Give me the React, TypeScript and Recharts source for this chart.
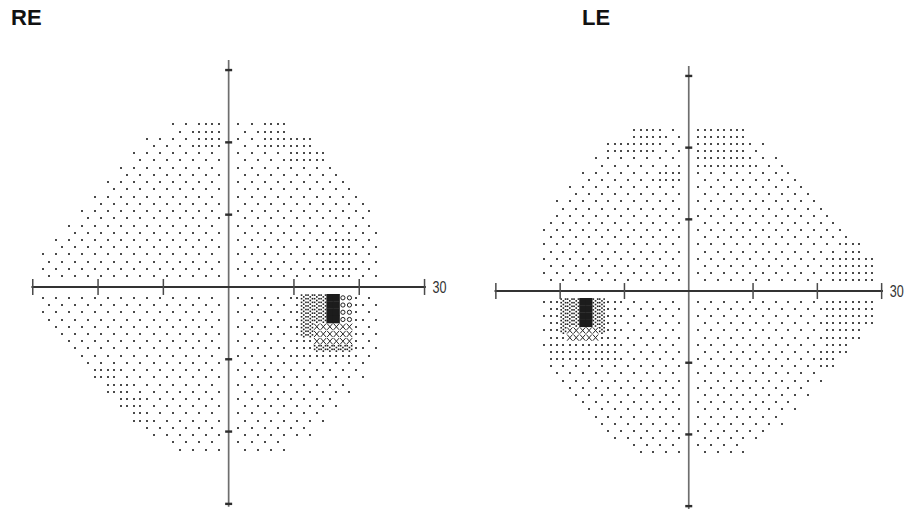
import { ScatterChart, Scatter, XAxis, YAxis, ReferenceLine } from "recharts";

// grayscale rows: index 0 = 1st row off the horizontal meridian (same for upper and lower half)
// [first column, last column] in 1° cells, negative = left of the vertical meridian
const reExtents = [
  [-28, 22], [-28, 22], [-28, 22], [-28, 22],
  [-26, 22], [-26, 22],
  [-24, 22], [-24, 22],
  [-22, 21], [-22, 21],
  [-20, 20], [-20, 20],
  [-18, 18], [-18, 18],
  [-16, 16], [-16, 16],
  [-14, 14], [-14, 14],
  [-12, 12], [-12, 12],
  [-8, 8], [-8, 8],
];

const leExtents = [
  [-22, 28], [-22, 28], [-22, 28], [-22, 28],
  [-22, 26], [-22, 26],
  [-22, 24], [-22, 24],
  [-21, 22], [-21, 22],
  [-20, 20], [-20, 20],
  [-18, 18], [-18, 18],
  [-16, 16], [-16, 16],
  [-14, 14], [-14, 14],
  [-12, 11], [-12, 11],
  [-8, 8], [-8, 8],
];

// [row from, row to, col from, col to, level]
// 1 sparse dots, 2 full dots, 3 fine hatch, 4 rings, 5 crosses, 6 black
const rePatches = [
  [19, 22, -4, -1, 2],
  [21, 22, 5, 8, 2],
  [19, 20, 5, 12, 2],
  [17, 18, 9, 14, 2],
  [1, 4, 14, 18, 2],
  [5, 6, 16, 18, 2],
  [-12, -11, -20, -17, 2],
  [-14, -13, -18, -15, 2],
  [-16, -15, -16, -13, 2],
  [-18, -17, -14, -12, 2],
  [-9, -1, 10, 19, 2],
  [-8, -8, 13, 18, 3],
  [-6, -1, 11, 14, 3],
  [-7, -5, 13, 18, 5],
  [-4, -1, 17, 18, 4],
  [-4, -1, 15, 16, 6],
];

const lePatches = [
  [21, 22, -8, -4, 2],
  [19, 20, -12, -5, 2],
  [17, 22, 1, 8, 2],
  [17, 18, 9, 9, 2],
  [15, 16, -4, -1, 2],
  [5, 6, 24, 26, 2],
  [1, 4, 22, 28, 2],
  [-4, -1, 21, 28, 2],
  [-6, -5, 21, 26, 2],
  [-8, -7, 21, 24, 2],
  [-10, -9, 20, 22, 2],
  [-9, -1, -21, -11, 2],
  [-5, -1, -19, -13, 3],
  [-6, -5, -18, -14, 5],
  [-4, -1, -16, -15, 6],
];

const axisTicks = [-30, -20, -10, 10, 20, 30];
const endLabel = "30";

const isOdd = (n: number) => ((n % 2) + 2) % 2 === 1;

function buildCells(extents: number[][], patches: number[][]) {
  const cells: { x: number; y: number; level: number }[] = [];
  extents.forEach(([lo, hi], i) => {
    const a = i + 1;
    for (const j of [a, -a]) {
      for (let k = lo; k <= hi; k++) {
        if (k === 0) continue;
        let level = 1;
        for (const [j0, j1, k0, k1, lv] of patches) {
          if (j >= j0 && j <= j1 && k >= k0 && k <= k1) level = lv;
        }
        const x = k > 0 ? k + 0.5 : k - 0.5;
        const y = j > 0 ? j + 0.5 : j - 0.5;
        if (level === 1 && !isOdd(Math.floor(x) + Math.floor(y))) continue;
        cells.push({ x, y, level });
      }
    }
  });
  return cells;
}

function cellShape(w: number, h: number) {
  return (props: any) => {
    const { cx, cy, payload } = props;
    const lv = payload.level;
    if (lv <= 2) {
      return <rect x={Math.round(cx) - 1} y={Math.round(cy) - 1} width={2} height={2} fill="#4a4a4a" />;
    }
    if (lv === 3) {
      const dots = [];
      const dxs = [-2.2, 0, 2.2];
      const dys = [-2.7, -0.9, 0.9, 2.7];
      for (let a = 0; a < 3; a++)
        for (let b = 0; b < 4; b++)
          if ((a + b) % 2 === 0)
            dots.push(<rect key={a + "-" + b} x={cx + dxs[a] - 0.8} y={cy + dys[b] - 0.8} width={1.6} height={1.6} fill="#222" />);
      return <g>{dots}</g>;
    }
    if (lv === 4) {
      return <circle cx={cx} cy={cy} r={2.1} fill="none" stroke="#222" strokeWidth={1} />;
    }
    if (lv === 5) {
      const hw = w / 2 - 0.5;
      const hh = h / 2 - 0.5;
      return (
        <path
          d={`M${cx - hw},${cy - hh}L${cx + hw},${cy + hh}M${cx + hw},${cy - hh}L${cx - hw},${cy + hh}`}
          stroke="#2a2a2a"
          strokeWidth={1}
          fill="none"
        />
      );
    }
    return <rect x={cx - w / 2 - 0.2} y={cy - h / 2 - 0.2} width={w + 0.4} height={h + 0.4} fill="#1c1c1c" />;
  };
}

const vTickShape = (props: any) => (
  <rect x={props.cx - 3.5} y={props.cy - 1.2} width={7} height={2.4} fill="#2e2e2e" />
);
const hTickShape = (props: any) => (
  <line x1={props.cx} x2={props.cx} y1={props.cy - 8} y2={props.cy + 8} stroke="#4a4a4a" strokeWidth={1.5} />
);
const labelShape = (props: any) => (
  <text
    x={props.cx + 8}
    y={props.cy + 6}
    fontSize={17}
    fontFamily="'Liberation Sans', Arial, sans-serif"
    fill="#333"
    textLength={14}
    lengthAdjust="spacingAndGlyphs"
  >
    {props.payload.text}
  </text>
);

function FieldPlot({ extents, patches, margin, cellW, cellH }: any) {
  const cells = buildCells(extents, patches);
  const vTicks = axisTicks.map((v) => ({ x: 0, y: v }));
  const hTicks = axisTicks.map((v) => ({ x: v, y: 0 }));
  return (
    <ScatterChart width={456} height={515} margin={margin}>
      <XAxis type="number" dataKey="x" domain={[-32, 32]} hide />
      <YAxis type="number" dataKey="y" domain={[-31, 32]} hide />
      <Scatter data={cells} shape={cellShape(cellW, cellH)} isAnimationActive={false} />
      <ReferenceLine segment={[{ x: 0, y: -30.4 }, { x: 0, y: 31.4 }]} stroke="#6e6e6e" strokeWidth={1.7} />
      <ReferenceLine segment={[{ x: -30.2, y: 0 }, { x: 30.2, y: 0 }]} stroke="#333" strokeWidth={2} />
      <Scatter data={vTicks} shape={vTickShape} isAnimationActive={false} />
      <Scatter data={hTicks} shape={hTickShape} isAnimationActive={false} />
      <Scatter data={[{ x: 30, y: 0, text: endLabel }]} shape={labelShape} isAnimationActive={false} />
    </ScatterChart>
  );
}

const titleStyle: any = {
  position: "absolute",
  top: 7,
  fontFamily: "'Liberation Sans', Arial, sans-serif",
  fontWeight: "bold",
  fontSize: 22,
  lineHeight: "22px",
  color: "#111",
};

export default function App() {
  return (
    <div style={{ position: "absolute", left: 0, top: 0, width: 912, height: 515, background: "#fff", overflow: "hidden" }}>
      <div style={{ ...titleStyle, left: 11 }}>RE</div>
      <div style={{ ...titleStyle, left: 582 }}>LE</div>
      <div style={{ position: "absolute", left: 0, top: 0 }}>
        <FieldPlot
          extents={reExtents}
          patches={rePatches}
          margin={{ top: 55.6, right: 18.4, bottom: 3.9, left: 19.7 }}
          cellW={6.53}
          cellH={7.23}
        />
      </div>
      <div style={{ position: "absolute", left: 456, top: 0 }}>
        <FieldPlot
          extents={leExtents}
          patches={lePatches}
          margin={{ top: 61.6, right: 17.5, bottom: 1.7, left: 27 }}
          cellW={6.43}
          cellH={7.17}
        />
      </div>
    </div>
  );
}
